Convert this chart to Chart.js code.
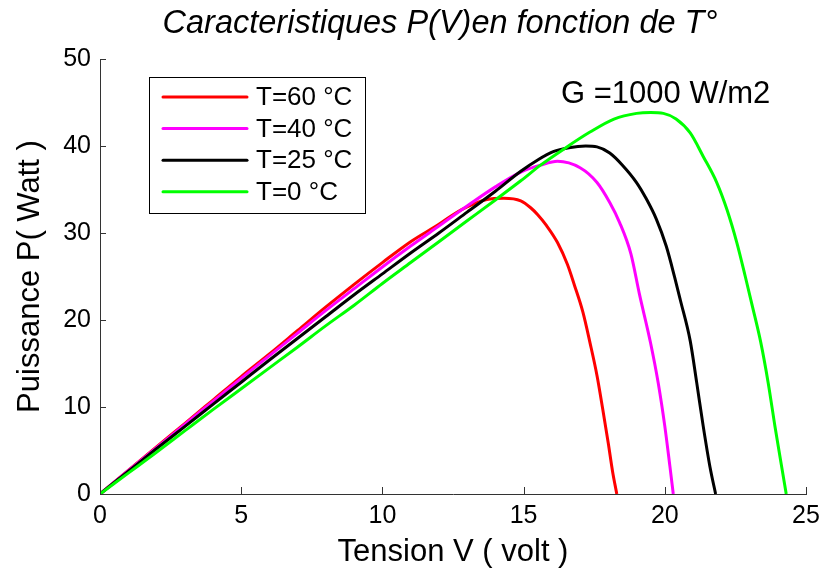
<!DOCTYPE html>
<html>
<head>
<meta charset="utf-8">
<title>P(V) en fonction de T</title>
<style>
  html, body { margin: 0; padding: 0; background: #ffffff; }
  #wrap { width: 822px; height: 570px; }
</style>
<script src="https://cdn.jsdelivr.net/npm/chart.js@4.4.1/dist/chart.umd.min.js"></script>
</head>
<body>
<div id="wrap"><canvas id="pvChart" width="822" height="570"></canvas></div>
<script>
// ---------------------------
// P(V) curves of the PV panel for several temperatures (G = 1000 W/m2)
// ---------------------------

const seriesLabels = ["T=60 °C", "T=40 °C", "T=25 °C", "T=0 °C"];
const seriesColors = ["#ff0000", "#ff00ff", "#000000", "#00ff00"];

// T = 60 °C
const voltT60 = [0, 1, 2, 3, 4, 5, 6, 7, 8, 9, 10, 11, 12, 12.5, 13, 13.7, 14.3, 14.9, 15.25, 15.5, 15.8, 16.2, 16.55, 16.8, 17.1, 17.35, 17.6, 17.8, 18.0, 18.15, 18.3];
const powerT60 = [0, 2.7, 5.4, 8.1, 10.8, 13.5, 16.1, 18.8, 21.5, 24.1, 26.6, 29.0, 31.0, 32.1, 33.0, 33.85, 34.0, 33.7, 32.9, 32.1, 30.9, 28.9, 26.4, 24.0, 20.9, 17.4, 13.6, 9.8, 5.8, 2.6, 0];

// T = 40 °C
const voltT40 = [0, 1, 2, 3, 4, 5, 6, 7, 8, 9, 10, 11, 12, 13, 14, 14.9, 15.6, 16.2, 17.0, 17.6, 18.05, 18.4, 18.8, 19.1, 19.5, 19.77, 20.0, 20.18, 20.3];
const powerT40 = [0, 2.67, 5.33, 8.0, 10.65, 13.3, 15.9, 18.5, 21.1, 23.6, 26.1, 28.5, 30.8, 33.1, 35.3, 37.0, 37.8, 38.25, 37.5, 35.8, 33.5, 31.2, 27.6, 23.0, 17.3, 12.7, 7.8, 3.2, 0];

// T = 25 °C
const voltT25 = [0, 1, 2, 3, 4, 5, 6, 7, 8, 9, 10, 11, 12, 13, 14, 14.9, 15.5, 16.05, 16.6, 17.2, 17.6, 18.05, 18.5, 19.0, 19.35, 19.7, 20.05, 20.35, 20.55, 20.9, 21.13, 21.36, 21.6, 21.8];
const powerT25 = [0, 2.6, 5.2, 7.75, 10.3, 12.85, 15.4, 17.9, 20.4, 22.9, 25.3, 27.7, 30.0, 32.4, 34.8, 37.1, 38.4, 39.35, 39.8, 40.0, 39.9, 39.2, 37.8, 35.8, 33.9, 31.6, 28.5, 24.9, 22.3, 17.6, 12.8, 7.8, 3.1, 0];

// T = 0 °C
const voltT0 = [0, 1, 2, 3, 4, 5, 6, 7, 8, 9, 10, 11, 12, 13, 14, 14.9, 15.6, 16.4, 17.35, 18.2, 19.0, 19.5, 19.95, 20.4, 20.9, 21.36, 21.84, 22.2, 22.55, 22.85, 23.1, 23.4, 23.66, 23.9, 24.14, 24.3];
const powerT0 = [0, 2.4, 4.8, 7.25, 9.7, 12.1, 14.5, 16.9, 19.35, 21.7, 24.2, 26.6, 29.0, 31.4, 33.8, 36.0, 37.8, 39.6, 41.6, 43.1, 43.75, 43.85, 43.75, 43.1, 41.5, 38.8, 35.8, 32.7, 28.9, 25.0, 21.6, 17.4, 12.8, 7.8, 3.1, 0];

const xTickValues = [0, 5, 10, 15, 20, 25];
const yTickValues = [0, 10, 20, 30, 40, 50];

const chartTitle = "Caracteristiques P(V)en fonction de T°";
const irradianceText = "G =1000 W/m2";

const FONT = "'Liberation Sans', Arial, Helvetica, sans-serif";
const AXIS_COLOR = "#333333";

function toPoints(xs, ys) {
  return xs.map((v, i) => ({ x: v, y: ys[i] }));
}

const allVolts = [voltT60, voltT40, voltT25, voltT0];
const allPowers = [powerT60, powerT40, powerT25, powerT0];

const datasets = seriesLabels.map((label, i) => ({
  label: label,
  data: toPoints(allVolts[i], allPowers[i]),
  borderColor: seriesColors[i],
  backgroundColor: seriesColors[i],
  borderWidth: 3,
  pointRadius: 0,
  showLine: true,
  fill: false,
  cubicInterpolationMode: "monotone",
  order: seriesLabels.length - i, // last series drawn on top
}));

// title, inward tick marks, legend box and irradiance note
const overlayPlugin = {
  id: "overlay",
  afterDraw(chart) {
    const { ctx, chartArea, scales } = chart;
    const xs = scales.x;
    const ys = scales.y;
    ctx.save();

    // tick marks pointing into the plot
    ctx.strokeStyle = AXIS_COLOR;
    ctx.lineWidth = 1;
    ctx.beginPath();
    xTickValues.forEach(v => {
      const px = Math.round(xs.getPixelForValue(v)) + 0.5;
      ctx.moveTo(px, chartArea.bottom);
      ctx.lineTo(px, chartArea.bottom - 7);
    });
    yTickValues.forEach(v => {
      const py = Math.round(ys.getPixelForValue(v)) + 0.5;
      ctx.moveTo(chartArea.left, py);
      ctx.lineTo(chartArea.left + 6, py);
    });
    ctx.stroke();

    // title
    ctx.fillStyle = "#000000";
    ctx.textBaseline = "middle";
    ctx.textAlign = "center";
    ctx.font = "italic 32.5px " + FONT;
    ctx.fillText(chartTitle, 440, 24);

    // irradiance note
    ctx.textAlign = "left";
    ctx.font = "31px " + FONT;
    ctx.fillText(irradianceText, 561, 94);

    // legend box
    const box = { left: 149, top: 77, width: 216, height: 136 };
    ctx.fillStyle = "#ffffff";
    ctx.fillRect(box.left, box.top, box.width, box.height);
    ctx.strokeStyle = "#000000";
    ctx.lineWidth = 1;
    ctx.strokeRect(box.left + 0.5, box.top + 0.5, box.width, box.height);

    ctx.font = "26px " + FONT;
    ctx.lineCap = "round";
    chart.data.datasets.forEach((ds, i) => {
      const rowY = 97 + i * 31.6;
      ctx.strokeStyle = ds.borderColor;
      ctx.lineWidth = 3;
      ctx.beginPath();
      ctx.moveTo(163, rowY);
      ctx.lineTo(247, rowY);
      ctx.stroke();
      ctx.fillStyle = "#000000";
      ctx.fillText(ds.label, 256, rowY + 1);
    });

    ctx.restore();
  },
};

const tickFont = { family: FONT, size: 25 };
const axisTitleFont = { family: FONT, size: 31, lineHeight: 1 };

new Chart(document.getElementById("pvChart").getContext("2d"), {
  type: "scatter",
  data: { datasets: datasets },
  options: {
    responsive: false,
    animation: false,
    layout: { padding: { top: 59, right: 16, left: 0, bottom: 0 } },
    plugins: {
      legend: { display: false },
      tooltip: { enabled: false },
      title: { display: false },
    },
    scales: {
      x: {
        type: "linear",
        min: 0,
        max: 25,
        grid: { display: false, drawTicks: false },
        border: { display: true, color: AXIS_COLOR, width: 1 },
        ticks: { stepSize: 5, color: "#000000", font: tickFont, padding: 7, maxRotation: 0 },
        title: {
          display: true,
          text: "Tension V ( volt )",
          color: "#000000",
          font: axisTitleFont,
          padding: { top: 0, bottom: 2 },
        },
        afterFit(scale) {
          scale.height = 76;
          // the end labels fit inside the layout padding already
          scale.paddingLeft = 0;
          scale.paddingRight = 0;
        },
      },
      y: {
        type: "linear",
        min: 0,
        max: 50,
        grid: { display: false, drawTicks: false },
        border: { display: true, color: AXIS_COLOR, width: 1 },
        ticks: { stepSize: 10, color: "#000000", font: tickFont, padding: 9 },
        title: {
          display: true,
          text: "Puissance P( Watt )",
          color: "#000000",
          font: axisTitleFont,
          padding: { top: 15, bottom: 0 },
        },
        afterFit(scale) { scale.width = 100; },
      },
    },
  },
  plugins: [overlayPlugin],
});
</script>
</body>
</html>
